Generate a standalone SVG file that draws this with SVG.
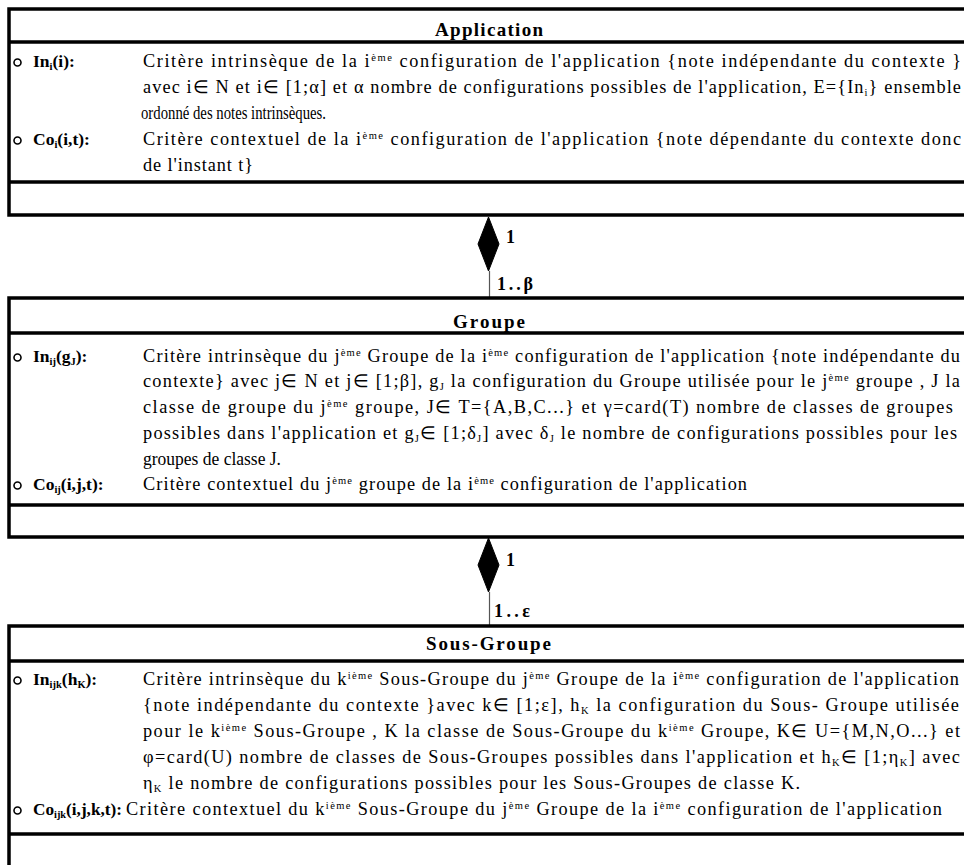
<svg xmlns="http://www.w3.org/2000/svg" width="964" height="865" viewBox="0 0 964 865">
<style>
.box{fill:#fff;stroke:#000;stroke-width:3.5}
.sep{stroke:#000;stroke-width:3.5}
.t{font-family:"Liberation Serif","Times New Roman",serif;font-size:18.3px;fill:#000}
.l{font-family:"Liberation Serif","Times New Roman",serif;font-size:17.5px;font-weight:bold;fill:#000}
.ti{font-family:"Liberation Serif","Times New Roman",serif;font-size:19px;font-weight:bold;fill:#000}
.s{font-size:10.5px}
.bul{fill:none;stroke:#000;stroke-width:1.6}
.dia{fill:#000;stroke:#000;stroke-width:1}
.lnk{stroke:#555;stroke-width:1.2;fill:none}
.m{font-family:"Liberation Serif","Times New Roman",serif;font-size:18px;font-weight:bold;fill:#000}
</style>
<rect x="0" y="0" width="964" height="865" fill="#fff"/>

<g id="connectors">
  <line class="lnk" x1="489.5" y1="271" x2="489.5" y2="298"/>
  <polygon class="dia" points="488.5,217 499,244 488.5,271 478,244"/>
  <text class="m" x="506" y="243">1</text>
  <text class="m" x="497" y="290" textLength="36" lengthAdjust="spacing">1..β</text>
  <line class="lnk" x1="489.5" y1="592" x2="489.5" y2="626"/>
  <polygon class="dia" points="488.5,538 499,565 488.5,592 478,565"/>
  <text class="m" x="506" y="566">1</text>
  <text class="m" x="494" y="617" textLength="36" lengthAdjust="spacing">1..ε</text>
</g>

<g id="application">
  <rect class="box" x="9" y="9" width="980" height="206"/>
  <line class="sep" x1="9" y1="42" x2="989" y2="42"/>
  <line class="sep" x1="9" y1="182" x2="989" y2="182"/>
  <text class="ti" x="435" y="36" textLength="108" lengthAdjust="spacing">Application</text>
  <circle class="bul" cx="17.5" cy="62.5" r="3.5"/>
  <text class="l" x="33" y="67">In<tspan class="s" baseline-shift="-3">i</tspan>(i):</text>
  <text class="t" x="143" y="67" textLength="818" lengthAdjust="spacing">Critère intrinsèque de la i<tspan class="s" baseline-shift="6">ème</tspan> configuration de l'application {note indépendante du contexte }</text>
  <text class="t" x="143" y="93" textLength="818" lengthAdjust="spacing">avec i∈ N et i∈ [1;α] et α nombre de configurations possibles de l'application, E={In<tspan class="s" baseline-shift="-3">i</tspan>} ensemble</text>
  <text class="t" x="141" y="119" textLength="185" lengthAdjust="spacingAndGlyphs">ordonné des notes intrinsèques.</text>
  <circle class="bul" cx="17.5" cy="140.5" r="3.5"/>
  <text class="l" x="33" y="145">Co<tspan class="s" baseline-shift="-3">i</tspan>(i,t):</text>
  <text class="t" x="143" y="145" textLength="818" lengthAdjust="spacing">Critère contextuel de la i<tspan class="s" baseline-shift="6">ème</tspan> configuration de l'application  {note dépendante du contexte donc</text>
  <text class="t" x="143" y="171" textLength="110" lengthAdjust="spacing">de l'instant t}</text>
</g>

<g id="groupe">
  <rect class="box" x="9" y="298" width="980" height="239"/>
  <line class="sep" x1="9" y1="333" x2="989" y2="333"/>
  <line class="sep" x1="9" y1="505" x2="989" y2="505"/>
  <text class="ti" x="453" y="328" textLength="72" lengthAdjust="spacing">Groupe</text>
  <circle class="bul" cx="17.5" cy="357.5" r="3.5"/>
  <text class="l" x="33" y="362">In<tspan class="s" baseline-shift="-3">ij</tspan>(g<tspan class="s" baseline-shift="-3">J</tspan>):</text>
  <text class="t" x="143" y="362" textLength="817" lengthAdjust="spacing">Critère intrinsèque du j<tspan class="s" baseline-shift="6">ème</tspan> Groupe de la i<tspan class="s" baseline-shift="6">ème</tspan> configuration de l'application {note indépendante du</text>
  <text class="t" x="143" y="387" textLength="817" lengthAdjust="spacing">contexte} avec j∈ N  et j∈ [1;β], g<tspan class="s" baseline-shift="-3">J</tspan> la configuration du Groupe utilisée pour le j<tspan class="s" baseline-shift="6">ème</tspan> groupe , J la</text>
  <text class="t" x="143" y="413" textLength="810" lengthAdjust="spacing">classe de groupe du j<tspan class="s" baseline-shift="6">ème</tspan> groupe,  J∈ T={A,B,C...} et γ=card(T) nombre de classes de groupes</text>
  <text class="t" x="143" y="439" textLength="814" lengthAdjust="spacing">possibles dans l'application et g<tspan class="s" baseline-shift="-3">J</tspan>∈ [1;δ<tspan class="s" baseline-shift="-3">J</tspan>] avec δ<tspan class="s" baseline-shift="-3">J</tspan> le nombre de configurations possibles pour les</text>
  <text class="t" x="143" y="465" textLength="138" lengthAdjust="spacingAndGlyphs">groupes de classe J.</text>
  <circle class="bul" cx="17.5" cy="485.5" r="3.5"/>
  <text class="l" x="33" y="490">Co<tspan class="s" baseline-shift="-3">ij</tspan>(i,j,t):</text>
  <text class="t" x="143" y="490" textLength="604" lengthAdjust="spacing">Critère contextuel du j<tspan class="s" baseline-shift="6">ème</tspan> groupe de la i<tspan class="s" baseline-shift="6">ème</tspan> configuration de l'application</text>
</g>

<g id="sous-groupe">
  <rect class="box" x="9" y="626" width="980" height="280"/>
  <line class="sep" x1="9" y1="661" x2="989" y2="661"/>
  <line class="sep" x1="9" y1="834" x2="989" y2="834"/>
  <text class="ti" x="426" y="650" textLength="125" lengthAdjust="spacing">Sous-Groupe</text>
  <circle class="bul" cx="17.5" cy="680.5" r="3.5"/>
  <text class="l" x="33" y="685">In<tspan class="s" baseline-shift="-3">ijk</tspan>(h<tspan class="s" baseline-shift="-3">K</tspan>):</text>
  <text class="t" x="143" y="685" textLength="816" lengthAdjust="spacing">Critère intrinsèque du k<tspan class="s" baseline-shift="6">ième</tspan> Sous-Groupe du  j<tspan class="s" baseline-shift="6">ème</tspan> Groupe de la i<tspan class="s" baseline-shift="6">ème</tspan> configuration de l'application</text>
  <text class="t" x="143" y="711" textLength="816" lengthAdjust="spacing">{note indépendante du contexte }avec k∈ [1;ε], h<tspan class="s" baseline-shift="-3">K</tspan> la configuration du Sous- Groupe utilisée</text>
  <text class="t" x="143" y="737" textLength="817" lengthAdjust="spacing">pour le k<tspan class="s" baseline-shift="6">ième</tspan> Sous-Groupe , K la classe de Sous-Groupe du k<tspan class="s" baseline-shift="6">ième</tspan> Groupe, K∈ U={M,N,O...} et</text>
  <text class="t" x="143" y="763" textLength="817" lengthAdjust="spacing">φ=card(U) nombre de classes de Sous-Groupes possibles dans l'application et h<tspan class="s" baseline-shift="-3">K</tspan>∈ [1;η<tspan class="s" baseline-shift="-3">K</tspan>] avec</text>
  <text class="t" x="143" y="789" textLength="657" lengthAdjust="spacing">η<tspan class="s" baseline-shift="-3">K</tspan> le nombre de configurations possibles pour les Sous-Groupes de classe K.</text>
  <circle class="bul" cx="17.5" cy="810.5" r="3.5"/>
  <text class="l" x="33" y="815" textLength="89" lengthAdjust="spacingAndGlyphs">Co<tspan class="s" baseline-shift="-3">ijk</tspan>(i,j,k,t):</text>
  <text class="t" x="126" y="815" textLength="816" lengthAdjust="spacing">Critère contextuel du k<tspan class="s" baseline-shift="6">ième</tspan> Sous-Groupe du  j<tspan class="s" baseline-shift="6">ème</tspan> Groupe de la i<tspan class="s" baseline-shift="6">ème</tspan> configuration de l'application</text>
</g>
</svg>
